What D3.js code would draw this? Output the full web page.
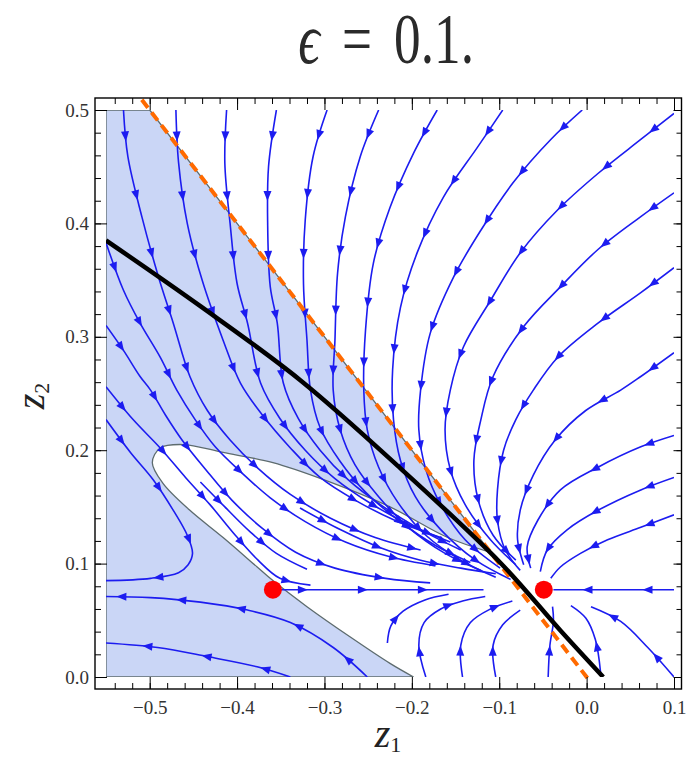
<!DOCTYPE html>
<html>
<head>
<meta charset="utf-8">
<script src="https://cdn.jsdelivr.net/npm/d3@7"></script>
<style>
body { margin: 0; background: #fff; }
</style>
</head>
<body>
<svg width="687" height="760"></svg>
<script>
// tick labels
var xTicks = [-0.5, -0.4, -0.3, -0.2, -0.1, 0.0, 0.1];
var yTicks = [0.0, 0.1, 0.2, 0.3, 0.4, 0.5];

// fixed points
var fixedPoints = [[-0.359, 0.077], [-0.049, 0.077]];

// the two curves
var orangeLine = [[-0.509, 0.509], [0.005, -0.005]];
var blackLine = [[-0.550, 0.385], [-0.442, 0.327], [-0.328, 0.262], [-0.213, 0.184],
                 [-0.099, 0.101], [-0.030, 0.041], [0.019, 0.000]];

// edge of the shaded region: from the bottom, round the tip, up to the orange line
var regionEdge = [[-0.198, 0.000], [-0.225, 0.012], [-0.270, 0.035], [-0.320, 0.062],
                  [-0.359, 0.085], [-0.377, 0.097], [-0.416, 0.123], [-0.454, 0.147],
                  [-0.485, 0.171], [-0.497, 0.189], [-0.488, 0.202], [-0.462, 0.205],
                  [-0.416, 0.198], [-0.359, 0.189], [-0.301, 0.174], [-0.225, 0.150],
                  [-0.159, 0.123], [-0.110, 0.110]];
var shadeCorners = [[-0.5, 0.5], [-0.55, 0.5], [-0.55, 0.0]];

// stream lines, points in flow order
var topStreams = [
  [[-0.470,0.500],[-0.467,0.454],[-0.457,0.400],[-0.440,0.350],[-0.416,0.297],[-0.396,0.259],[-0.371,0.231],[-0.339,0.202],[-0.305,0.176],[-0.265,0.156],[-0.219,0.138],[-0.167,0.123]],
  [[-0.412,0.500],[-0.414,0.453],[-0.408,0.400],[-0.400,0.347],[-0.388,0.312],[-0.373,0.259],[-0.351,0.228],[-0.322,0.200],[-0.288,0.175],[-0.247,0.153],[-0.202,0.134],[-0.156,0.119]],
  [[-0.355,0.500],[-0.364,0.450],[-0.365,0.400],[-0.362,0.344],[-0.354,0.312],[-0.347,0.259],[-0.330,0.228],[-0.305,0.200],[-0.273,0.174],[-0.236,0.152],[-0.190,0.130],[-0.144,0.112]],
  [[-0.297,0.500],[-0.313,0.459],[-0.322,0.403],[-0.324,0.347],[-0.320,0.297],[-0.316,0.253],[-0.305,0.220],[-0.282,0.190],[-0.253,0.163],[-0.215,0.138],[-0.173,0.116],[-0.133,0.101]],
  [[-0.238,0.500],[-0.259,0.459],[-0.276,0.406],[-0.285,0.356],[-0.288,0.297],[-0.290,0.253],[-0.282,0.218],[-0.265,0.187],[-0.238,0.159],[-0.204,0.132],[-0.162,0.109],[-0.121,0.094]],
  [[-0.171,0.500],[-0.198,0.462],[-0.225,0.414],[-0.244,0.365],[-0.253,0.306],[-0.255,0.253],[-0.251,0.218],[-0.238,0.185],[-0.216,0.154],[-0.184,0.125],[-0.144,0.103],[-0.104,0.088]],
  [[-0.096,0.500],[-0.125,0.467],[-0.164,0.423],[-0.194,0.374],[-0.213,0.326],[-0.222,0.271],[-0.221,0.227],[-0.213,0.191],[-0.196,0.159],[-0.167,0.130],[-0.127,0.103],[-0.087,0.086]],
  [[-0.005,0.500],[-0.041,0.474],[-0.084,0.436],[-0.121,0.394],[-0.152,0.353],[-0.179,0.303],[-0.190,0.253],[-0.192,0.218],[-0.184,0.183],[-0.167,0.152],[-0.139,0.121],[-0.099,0.096]],
  [[0.100,0.497],[0.062,0.474],[0.013,0.444],[-0.033,0.412],[-0.076,0.374],[-0.110,0.332],[-0.141,0.291],[-0.156,0.253],[-0.162,0.218],[-0.156,0.183],[-0.139,0.152],[-0.110,0.121],[-0.081,0.099]],
  [[0.100,0.427],[0.062,0.406],[0.013,0.377],[-0.030,0.344],[-0.072,0.309],[-0.107,0.265],[-0.121,0.227],[-0.129,0.191],[-0.124,0.156],[-0.107,0.125],[-0.081,0.103]],
  [[0.100,0.361],[0.062,0.339],[0.013,0.312],[-0.033,0.282],[-0.061,0.253],[-0.081,0.227],[-0.095,0.200],[-0.102,0.165],[-0.102,0.138],[-0.093,0.112],[-0.076,0.094]],
  [[0.100,0.286],[0.062,0.265],[0.039,0.253],[-0.001,0.235],[-0.036,0.209],[-0.061,0.178],[-0.076,0.147],[-0.079,0.121],[-0.072,0.099]]
];

var rightStreams = [
  [[0.100,0.213],[0.062,0.203],[0.013,0.185],[-0.030,0.165],[-0.056,0.138],[-0.068,0.115],[-0.064,0.096]],
  [[0.100,0.176],[0.062,0.165],[0.013,0.147],[-0.022,0.130],[-0.045,0.112],[-0.053,0.093]],
  [[0.100,0.143],[0.062,0.132],[0.024,0.121],[-0.007,0.109],[-0.030,0.097],[-0.041,0.087]],
  [[0.100,0.077],[-0.038,0.077]]
];

var leftStreams = [
  [[-0.530,0.500],[-0.525,0.459],[-0.509,0.406],[-0.490,0.353],[-0.473,0.312],[-0.454,0.265],[-0.434,0.235],[-0.408,0.209],[-0.376,0.184],[-0.339,0.161],[-0.293,0.140],[-0.242,0.123],[-0.190,0.112]],
  [[-0.550,0.383],[-0.530,0.341],[-0.511,0.312],[-0.488,0.282],[-0.469,0.253],[-0.448,0.227],[-0.425,0.203],[-0.396,0.181],[-0.362,0.158],[-0.322,0.137],[-0.276,0.119],[-0.225,0.106],[-0.173,0.098]],
  [[-0.550,0.310],[-0.530,0.288],[-0.511,0.265],[-0.499,0.253],[-0.482,0.231],[-0.463,0.209],[-0.436,0.183],[-0.406,0.156],[-0.371,0.131],[-0.333,0.110],[-0.288,0.096],[-0.230,0.087],[-0.179,0.083]],
  [[-0.550,0.256],[-0.519,0.227],[-0.488,0.202],[-0.459,0.176],[-0.431,0.152],[-0.402,0.125],[-0.376,0.103],[-0.351,0.087],[-0.316,0.081]],
  [[-0.442,0.172],[-0.414,0.150],[-0.385,0.128],[-0.355,0.109],[-0.320,0.095]],
  [[-0.328,0.149],[-0.282,0.130],[-0.236,0.114],[-0.190,0.103],[-0.144,0.096],[-0.104,0.091]],
  [[-0.355,0.077],[-0.118,0.077]]
];

var bottomStreams = [
  [[-0.550,0.227],[-0.522,0.198],[-0.496,0.174],[-0.473,0.147],[-0.457,0.125],[-0.451,0.109],[-0.456,0.099],[-0.467,0.092],[-0.499,0.087],[-0.550,0.085]],
  [[-0.251,0.000],[-0.290,0.026],[-0.339,0.048],[-0.388,0.059],[-0.442,0.066],[-0.499,0.070],[-0.550,0.071]],
  [[-0.339,0.000],[-0.377,0.009],[-0.434,0.018],[-0.491,0.026],[-0.550,0.030]],
  [[-0.228,0.030],[-0.224,0.045],[-0.210,0.058],[-0.185,0.068],[-0.158,0.073]],
  [[-0.184,0.000],[-0.192,0.028],[-0.186,0.048],[-0.167,0.060],[-0.142,0.067],[-0.116,0.071]],
  [[-0.142,0.000],[-0.144,0.028],[-0.133,0.048],[-0.110,0.060],[-0.085,0.067]],
  [[-0.104,0.000],[-0.107,0.028],[-0.096,0.046],[-0.076,0.059]],
  [[-0.044,0.000],[-0.042,0.028],[-0.038,0.049],[-0.039,0.062]],
  [[0.016,0.004],[0.010,0.033],[-0.001,0.052],[-0.018,0.063]],
  [[0.100,0.000],[0.070,0.026],[0.039,0.049],[0.005,0.062]]
];

// title pieces and where their centres sit
var titleParts = [["ϵ", 309, "italic"], ["=", 357, "normal"], ["0.1.", 434, "normal"]];

var blue = "#1c1cf0";

var svg = d3.select("svg");

var x = d3.scaleLinear().domain([-0.55, 0.1]).range([106, 674]);
var y = d3.scaleLinear().domain([0, 0.5]).range([677, 110]);

var defs = svg.append("defs");
defs.append("clipPath").attr("id", "plot").append("rect")
    .attr("x", 106).attr("y", 110).attr("width", 568).attr("height", 567);
defs.append("clipPath").attr("id", "frame").append("rect")
    .attr("x", 95).attr("y", 98).attr("width", 586.5).attr("height", 591);

var line = d3.line().x(function(d) { return x(d[0]); }).y(function(d) { return y(d[1]); });
var smooth = d3.line().x(function(d) { return x(d[0]); }).y(function(d) { return y(d[1]); })
    .curve(d3.curveCatmullRom.alpha(0.5));

// shaded region
var shadeD = smooth(regionEdge) +
    shadeCorners.map(function(p) { return "L" + x(p[0]) + "," + y(p[1]); }).join("") + "Z";
svg.append("path")
    .attr("d", shadeD)
    .attr("fill", "#cad6f6")
    .attr("stroke", "#5d6b6e")
    .attr("stroke-width", 1.3)
    .attr("clip-path", "url(#plot)");

// stream lines with arrow heads
var streams = topStreams.concat(rightStreams, leftStreams, bottomStreams);
var sg = svg.append("g").attr("clip-path", "url(#plot)");
streams.forEach(function(s) {
    var p = sg.append("path")
        .attr("d", smooth(s))
        .attr("fill", "none")
        .attr("stroke", blue)
        .attr("stroke-width", 1.6);
    var node = p.node(), len = node.getTotalLength();
    for (var t = 26; t < len - 8; t += 60) {
        var a = node.getPointAtLength(t), b = node.getPointAtLength(Math.min(t + 1, len));
        var ang = Math.atan2(b.y - a.y, b.x - a.x) * 180 / Math.PI;
        sg.append("path")
            .attr("d", "M5.5,0L-4.5,-4L-4.5,4Z")
            .attr("transform", "translate(" + a.x + "," + a.y + ") rotate(" + ang + ")")
            .attr("fill", blue);
    }
});

// orange dashed line and black curve
svg.append("path")
    .attr("d", line(orangeLine))
    .attr("fill", "none")
    .attr("stroke", "#ff6a00")
    .attr("stroke-width", 4)
    .attr("stroke-dasharray", "10,6")
    .attr("clip-path", "url(#frame)");

svg.append("path")
    .attr("d", smooth(blackLine))
    .attr("fill", "none")
    .attr("stroke", "#000")
    .attr("stroke-width", 4.5)
    .attr("clip-path", "url(#plot)");

svg.selectAll("circle.fp")
    .data(fixedPoints)
    .enter().append("circle")
    .attr("class", "fp")
    .attr("cx", function(d) { return x(d[0]); })
    .attr("cy", function(d) { return y(d[1]); })
    .attr("r", 9)
    .attr("fill", "#ff0000");

// frame ticks
function styleAxis(g) {
    g.select(".domain").remove();
    g.selectAll("line").attr("stroke", "#000").attr("stroke-width", 1);
    g.selectAll("text")
        .attr("font-family", "Liberation Serif, serif")
        .attr("font-size", 19)
        .attr("fill", "#333");
}
var f1 = d3.format(".1f");

svg.append("g").attr("transform", "translate(0,689)")
    .call(d3.axisBottom(x).tickValues(xTicks).tickSize(-12).tickPadding(12).tickFormat(f1))
    .call(styleAxis);
svg.append("g").attr("transform", "translate(0,689)")
    .call(d3.axisBottom(x).ticks(30).tickSize(-6).tickFormat(""))
    .call(styleAxis);
svg.append("g").attr("transform", "translate(0,98)")
    .call(d3.axisTop(x).tickValues(xTicks).tickSize(-12).tickFormat(""))
    .call(styleAxis);
svg.append("g").attr("transform", "translate(0,98)")
    .call(d3.axisTop(x).ticks(30).tickSize(-6).tickFormat(""))
    .call(styleAxis);
svg.append("g").attr("transform", "translate(95,0)")
    .call(d3.axisLeft(y).tickValues(yTicks).tickSize(-12).tickPadding(6).tickFormat(f1))
    .call(styleAxis);
svg.append("g").attr("transform", "translate(95,0)")
    .call(d3.axisLeft(y).ticks(25).tickSize(-6).tickFormat(""))
    .call(styleAxis);
svg.append("g").attr("transform", "translate(681.5,0)")
    .call(d3.axisRight(y).tickValues(yTicks).tickSize(-8).tickFormat(""))
    .call(styleAxis);
svg.append("g").attr("transform", "translate(681.5,0)")
    .call(d3.axisRight(y).ticks(25).tickSize(-5).tickFormat(""))
    .call(styleAxis);

svg.append("rect")
    .attr("x", 95).attr("y", 98).attr("width", 586.5).attr("height", 591)
    .attr("fill", "none").attr("stroke", "#000").attr("stroke-width", 1.4);

// title
svg.selectAll("text.title")
    .data(titleParts)
    .enter().append("text")
    .attr("class", "title")
    .attr("transform", function(d) { return "translate(" + d[1] + ",63) scale(0.74,1)"; })
    .attr("text-anchor", "middle")
    .attr("font-family", "Liberation Serif, serif")
    .attr("font-size", 72)
    .attr("font-style", function(d) { return d[2]; })
    .attr("fill", "#2a2a2a")
    .text(function(d) { return d[0]; });

// axis labels
var xl = svg.append("text")
    .attr("x", 388).attr("y", 747)
    .attr("text-anchor", "middle")
    .attr("font-family", "Liberation Serif, serif")
    .attr("font-size", 40)
    .attr("fill", "#222");
xl.append("tspan").attr("font-style", "italic").text("z");
xl.append("tspan").attr("font-size", 22).attr("dy", 5).text("1");

var yl = svg.append("text")
    .attr("transform", "translate(44,396) rotate(-90)")
    .attr("text-anchor", "middle")
    .attr("font-family", "Liberation Serif, serif")
    .attr("font-size", 40)
    .attr("fill", "#222");
yl.append("tspan").attr("font-style", "italic").text("z");
yl.append("tspan").attr("font-size", 22).attr("dy", 5).text("2");
</script>
</body>
</html>
